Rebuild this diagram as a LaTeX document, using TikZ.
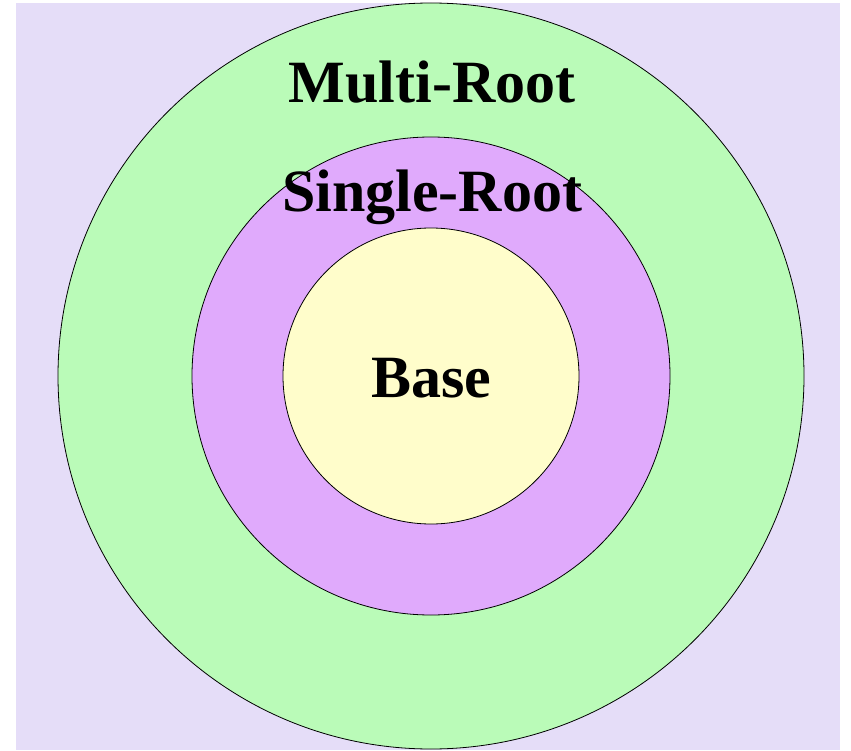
\documentclass[tikz,border=0pt]{standalone}
\usepackage{fontspec}
\setmainfont{Liberation Serif}
\usepackage{xcolor}
\usetikzlibrary{positioning}

\definecolor{lavender}{HTML}{E5DDF8}
\definecolor{multigreen}{HTML}{BAFBB8}
\definecolor{singleviolet}{HTML}{E0AAFC}
\definecolor{baseyellow}{HTML}{FFFDCB}

\begin{document}
\begin{tikzpicture}[
    x=1pt, y=-1pt,
    ring/.style={circle, draw=black, line width=0.8pt, inner sep=0pt},
    label/.style={anchor=base, font=\fontsize{60}{60}\selectfont\bfseries},
]
    \useasboundingbox (0,0) rectangle (851,751);
    \fill[lavender] (16,3) rectangle (840,750);

    % Nested rings
    \node[ring, fill=multigreen, minimum size=746pt] (multi) at (431,376) {};
    \node[ring, fill=singleviolet, minimum size=478pt] (single) at (431,376) {};
    \node[ring, fill=baseyellow, minimum size=296pt] (base) at (431,376) {};

    % Labels
    \node[label] (multilabel) at (432,103) {Multi-Root};
    \node[label] (singlelabel) at (432,212) {Single-Root};
    \node[label] (baselabel) at (431,397) {Base};
\end{tikzpicture}
\end{document}
